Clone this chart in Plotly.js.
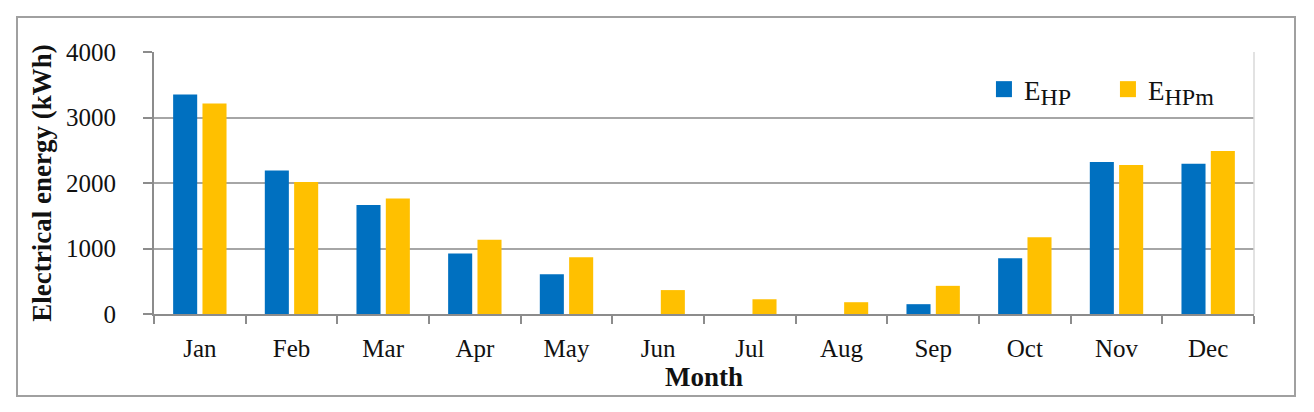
<!DOCTYPE html>
<html>
<head>
<meta charset="utf-8">
<script src="https://cdn.plot.ly/plotly-3.0.1.min.js"></script>
<style>
html,body{margin:0;padding:0;background:#fff;}
#chart{width:1314px;height:412px;}
</style>
</head>
<body>
<div id="chart"></div>
<script>
const months = ["Jan","Feb","Mar","Apr","May","Jun","Jul","Aug","Sep","Oct","Nov","Dec"];
const eHP  = [3350, 2190, 1665, 925, 605, 0, 0, 0, 150, 850, 2320, 2295];
const eHPm = [3215, 2015, 1765, 1135, 865, 365, 225, 180, 430, 1170, 2275, 2490];
const seriesNames = ["E<sub><span style='font-size:24px'>HP</span></sub>", "E<sub><span style='font-size:24px'>HPm</span></sub>"];
const colors = ["#0070C0", "#FFC000"];

const FONT = "Liberation Serif, Times New Roman, serif";

const traces = [
  {type:"bar", x:months, y:eHP, marker:{color:colors[0]}, showlegend:false, hoverinfo:"y"},
  {type:"bar", x:months, y:eHPm, marker:{color:colors[1]}, showlegend:false, hoverinfo:"y"},
  {type:"scatter", mode:"markers", x:[null], y:[null], name:seriesNames[0],
   marker:{symbol:"square", size:16, color:colors[0]}},
  {type:"scatter", mode:"markers", x:[null], y:[null], name:seriesNames[1],
   marker:{symbol:"square", size:16, color:colors[1]}}
];

const layout = {
  width:1314, height:412,
  margin:{l:154, r:60, t:52, b:98},
  paper_bgcolor:"#fff", plot_bgcolor:"#fff",
  font:{family:FONT, size:25, color:"#111"},
  barmode:"group", bargap:0.36, bargroupgap:0.18,
  xaxis:{
    type:"category",
    tickson:"boundaries", ticks:"outside", ticklen:8, tickwidth:2, tickcolor:"#8c8c8c",
    showline:true, linecolor:"#8c8c8c", linewidth:2,
    showgrid:false, zeroline:false,
    ticklabelstandoff:11,
    tickfont:{family:FONT, size:25, color:"#111"},
    title:{text:"<b>Month</b>", font:{family:FONT, size:27, color:"#111"}, standoff:0}
  },
  yaxis:{
    range:[0,4000], dtick:1000, tick0:0,
    ticks:"outside", ticklen:9, tickwidth:2, tickcolor:"#8c8c8c",
    showline:true, linecolor:"#8c8c8c", linewidth:2,
    showgrid:true, gridcolor:"#a6a6a6", gridwidth:2,
    zeroline:false,
    ticklabelstandoff:22,
    tickfont:{family:FONT, size:25, color:"#111"},
    title:{text:"<b>Electrical energy (kWh)</b>", font:{family:FONT, size:27, color:"#111"}, standoff:7}
  },
  legend:{
    orientation:"h", x:0.7545, y:0.95, xanchor:"left", yanchor:"top",
    bgcolor:"rgba(255,255,255,0)",
    font:{family:FONT, size:27, color:"#111"},
    entrywidth:79, entrywidthmode:"pixels",
    itemclick:false
  },
  shapes:[
    {type:"line", xref:"paper", yref:"paper", x0:1, x1:1, y0:0, y1:1,
     line:{color:"#d9d9d9", width:1.5}},
    {type:"rect", xref:"paper", yref:"paper",
     x0:(17-154)/1100, x1:(1295-154)/1100, y0:(314-396)/262, y1:(314-17)/262,
     line:{color:"#a0a0a0", width:2}, fillcolor:"rgba(0,0,0,0)", layer:"below"}
  ]
};

Plotly.newPlot("chart", traces, layout, {staticPlot:true, displayModeBar:false});
</script>
</body>
</html>
